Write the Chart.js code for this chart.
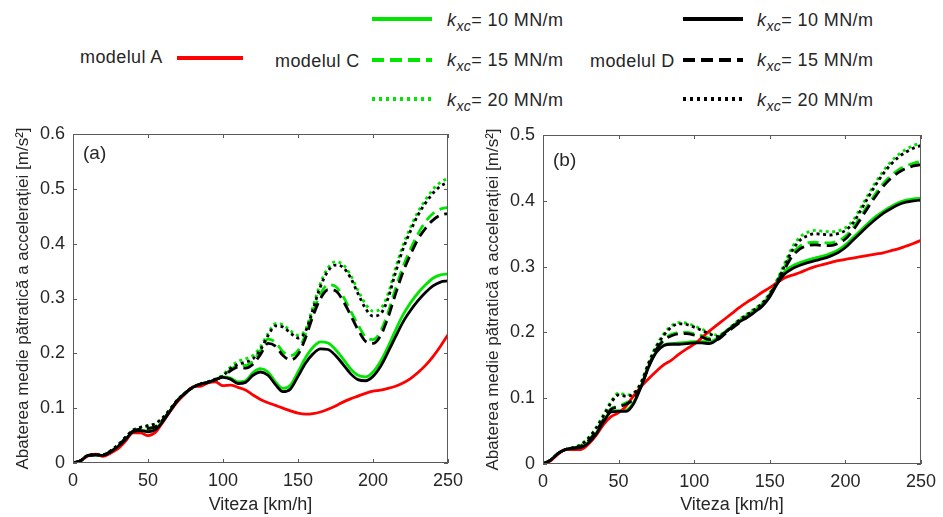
<!DOCTYPE html>
<html>
<head>
<meta charset="utf-8">
<script src="https://cdn.jsdelivr.net/npm/chart.js@4"></script>
<style>
body{margin:0;background:#fff;width:943px;height:517px;overflow:hidden;position:relative;font-family:"Liberation Sans",Arial,sans-serif}
#legend{position:absolute;left:0;top:0}
.box{position:absolute;top:110px;height:407px}
#boxA{left:0;width:470px}
#boxB{left:470px;width:473px}
</style>
</head>
<body>
<svg id="legend" width="943" height="120" font-family="Liberation Sans, Arial, sans-serif" font-size="18" fill="#262626" letter-spacing="0.4">
  <text x="80" y="63">modelul A</text>
  <line x1="177" y1="58" x2="243" y2="58" stroke="#ff0000" stroke-width="4"/>

  <text x="275" y="67">modelul C</text>
  <line x1="372" y1="19" x2="432" y2="19" stroke="#00e600" stroke-width="4"/>
  <line x1="372" y1="60" x2="432" y2="60" stroke="#00e600" stroke-width="4" stroke-dasharray="12 6"/>
  <line x1="372" y1="99" x2="432" y2="99" stroke="#00e600" stroke-width="4" stroke-dasharray="3 4"/>
  <text x="447" y="26"><tspan font-style="italic">k</tspan><tspan font-style="italic" font-size="14" dy="5">xc</tspan><tspan dy="-5">= 10 MN/m</tspan></text>
  <text x="447" y="66"><tspan font-style="italic">k</tspan><tspan font-style="italic" font-size="14" dy="5">xc</tspan><tspan dy="-5">= 15 MN/m</tspan></text>
  <text x="447" y="106"><tspan font-style="italic">k</tspan><tspan font-style="italic" font-size="14" dy="5">xc</tspan><tspan dy="-5">= 20 MN/m</tspan></text>

  <text x="590" y="67">modelul D</text>
  <line x1="683" y1="19" x2="743" y2="19" stroke="#000" stroke-width="4"/>
  <line x1="683" y1="60" x2="743" y2="60" stroke="#000" stroke-width="4" stroke-dasharray="12 6"/>
  <line x1="683" y1="99" x2="743" y2="99" stroke="#000" stroke-width="4" stroke-dasharray="3 4"/>
  <text x="757" y="26"><tspan font-style="italic">k</tspan><tspan font-style="italic" font-size="14" dy="5">xc</tspan><tspan dy="-5">= 10 MN/m</tspan></text>
  <text x="757" y="66"><tspan font-style="italic">k</tspan><tspan font-style="italic" font-size="14" dy="5">xc</tspan><tspan dy="-5">= 15 MN/m</tspan></text>
  <text x="757" y="106"><tspan font-style="italic">k</tspan><tspan font-style="italic" font-size="14" dy="5">xc</tspan><tspan dy="-5">= 20 MN/m</tspan></text>
</svg>
<div class="box" id="boxA"><canvas id="chartA" width="470" height="407"></canvas></div>
<div class="box" id="boxB"><canvas id="chartB" width="473" height="407"></canvas></div>
<script>
// viteza [km/h]
var speeds = [0,5,10,15,20,25,30,35,40,45,50,55,60,65,70,75,80,85,90,95,100,105,110,115,120,125,130,135,140,145,150,155,160,165,170,175,180,185,190,195,200,205,210,215,220,225,230,235,240,245,250];

// (a)
var aA   = [0,0.004,0.013,0.016,0.012,0.018,0.026,0.040,0.055,0.055, 0.050,0.056,0.075,0.095,0.113,0.127,0.139,0.140,0.146,0.148, 0.141,0.142,0.138,0.133,0.124,0.116,0.110,0.105,0.100,0.095, 0.091,0.089,0.090,0.093,0.098,0.104,0.111,0.117,0.122,0.127, 0.131,0.133,0.136,0.140,0.146,0.154,0.165,0.178,0.194,0.213, 0.234];
var aC10 = [0,0.004,0.014,0.015,0.014,0.020,0.030,0.043,0.057,0.060, 0.058,0.062,0.077,0.097,0.115,0.128,0.138,0.144,0.147,0.152, 0.157,0.155,0.148,0.150,0.165,0.172,0.166,0.148,0.136,0.142, 0.166,0.192,0.211,0.221,0.219,0.207,0.190,0.172,0.160,0.157, 0.166,0.185,0.212,0.242,0.270,0.292,0.310,0.325,0.337,0.343, 0.345];
var aD10 = [0,0.004,0.014,0.015,0.014,0.020,0.030,0.043,0.057,0.059, 0.057,0.061,0.076,0.096,0.115,0.128,0.138,0.144,0.147,0.152, 0.156,0.153,0.145,0.147,0.160,0.166,0.160,0.143,0.130,0.135, 0.158,0.182,0.199,0.208,0.207,0.196,0.180,0.163,0.152,0.150, 0.158,0.176,0.202,0.230,0.257,0.278,0.296,0.311,0.323,0.330, 0.332];
var aC15 = [0,0.004,0.014,0.015,0.015,0.021,0.031,0.045,0.058,0.062, 0.063,0.066,0.079,0.097,0.115,0.128,0.138,0.144,0.147,0.152, 0.159,0.170,0.178,0.178,0.186,0.205,0.226,0.220,0.203,0.196, 0.205,0.235,0.275,0.308,0.325,0.322,0.304,0.278,0.252,0.230, 0.225,0.240,0.274,0.318,0.358,0.390,0.418,0.440,0.455,0.463, 0.466];
var aD15 = [0,0.004,0.014,0.015,0.015,0.021,0.031,0.045,0.058,0.062, 0.063,0.066,0.079,0.097,0.115,0.128,0.138,0.144,0.147,0.152, 0.158,0.168,0.175,0.173,0.180,0.198,0.218,0.213,0.196,0.188, 0.198,0.228,0.268,0.300,0.316,0.314,0.296,0.270,0.243,0.222, 0.218,0.232,0.265,0.308,0.348,0.380,0.408,0.428,0.443,0.452, 0.455];
var aC20 = [0,0.004,0.014,0.015,0.015,0.022,0.033,0.047,0.060,0.065, 0.068,0.072,0.083,0.099,0.116,0.128,0.138,0.144,0.148,0.153, 0.161,0.175,0.185,0.190,0.196,0.212,0.236,0.254,0.252,0.241, 0.233,0.243,0.285,0.328,0.356,0.367,0.362,0.343,0.315,0.290, 0.277,0.281,0.308,0.355,0.397,0.430,0.458,0.480,0.499,0.512, 0.519];
var aD20 = [0,0.004,0.014,0.015,0.015,0.022,0.033,0.047,0.060,0.065, 0.068,0.072,0.083,0.099,0.116,0.128,0.138,0.144,0.148,0.153, 0.159,0.172,0.180,0.184,0.190,0.207,0.232,0.250,0.248,0.237, 0.228,0.240,0.280,0.322,0.350,0.361,0.357,0.338,0.309,0.282, 0.268,0.272,0.300,0.347,0.390,0.423,0.452,0.474,0.492,0.505, 0.512];

// (b)
var bA   = [0,0.005,0.015,0.022,0.022,0.022,0.030,0.043,0.060,0.072, 0.078,0.088,0.104,0.118,0.130,0.141,0.151,0.158,0.167,0.175, 0.182,0.192,0.202,0.211,0.220,0.229,0.238,0.246,0.253,0.261, 0.268,0.276,0.283,0.287,0.291,0.296,0.300,0.303,0.306,0.309, 0.311,0.313,0.315,0.317,0.319,0.321,0.324,0.327,0.331,0.335, 0.340];
var bC10 = [0,0.006,0.016,0.022,0.024,0.026,0.033,0.046,0.065,0.080, 0.081,0.082,0.094,0.119,0.149,0.171,0.181,0.183,0.184,0.185, 0.186,0.186,0.186,0.191,0.200,0.209,0.218,0.226,0.234,0.243, 0.257,0.278,0.293,0.301,0.306,0.310,0.313,0.316,0.320,0.325, 0.333,0.344,0.355,0.366,0.376,0.384,0.391,0.397,0.401,0.403, 0.404];
var bD10 = [0,0.006,0.016,0.022,0.024,0.025,0.032,0.045,0.064,0.079, 0.080,0.080,0.092,0.118,0.148,0.170,0.180,0.182,0.182,0.183, 0.184,0.184,0.183,0.189,0.199,0.208,0.216,0.223,0.231,0.240, 0.254,0.274,0.289,0.297,0.302,0.306,0.309,0.312,0.316,0.321, 0.329,0.340,0.351,0.362,0.372,0.381,0.388,0.394,0.398,0.400, 0.401];
var bC15 = [0,0.006,0.016,0.022,0.024,0.028,0.036,0.050,0.068,0.084, 0.088,0.093,0.100,0.120,0.150,0.175,0.190,0.197,0.200,0.200, 0.198,0.195,0.191,0.190,0.198,0.207,0.216,0.224,0.232,0.242, 0.258,0.279,0.301,0.320,0.331,0.336,0.337,0.336,0.336,0.339, 0.346,0.359,0.376,0.394,0.411,0.426,0.438,0.447,0.453,0.457, 0.460];
var bD15 = [0,0.006,0.016,0.022,0.024,0.027,0.035,0.049,0.067,0.083, 0.087,0.091,0.099,0.119,0.149,0.174,0.188,0.195,0.198,0.198, 0.196,0.193,0.189,0.189,0.197,0.206,0.215,0.223,0.231,0.240, 0.256,0.276,0.297,0.316,0.327,0.332,0.333,0.332,0.332,0.335, 0.342,0.355,0.372,0.390,0.407,0.422,0.434,0.443,0.449,0.453, 0.455];
var bC20 = [0,0.006,0.016,0.022,0.025,0.030,0.040,0.055,0.075,0.095, 0.108,0.105,0.108,0.125,0.155,0.180,0.198,0.210,0.215,0.214, 0.210,0.205,0.200,0.196,0.200,0.210,0.220,0.228,0.236,0.245, 0.260,0.281,0.306,0.330,0.345,0.352,0.355,0.354,0.353,0.354, 0.359,0.370,0.389,0.409,0.428,0.445,0.459,0.470,0.478,0.484, 0.488];
var bD20 = [0,0.006,0.016,0.022,0.025,0.029,0.039,0.054,0.073,0.093, 0.105,0.103,0.107,0.124,0.154,0.178,0.196,0.208,0.213,0.212, 0.208,0.203,0.198,0.194,0.199,0.209,0.219,0.227,0.235,0.244, 0.258,0.278,0.302,0.325,0.340,0.347,0.350,0.349,0.348,0.350, 0.355,0.366,0.385,0.405,0.424,0.441,0.455,0.466,0.474,0.480, 0.484];

var GREEN = '#00e600', RED = '#ff0000', BLACK = '#000000', AXIS = '#262626', BOX = '#5a5a5a';
var FONT = '"Liberation Sans", Arial, sans-serif';
var DASH = [11, 6], DOT = [3, 3.5];

function pts(vals) {
    return speeds.map(function (v, i) { return { x: v, y: vals[i] }; });
}

function line(vals, color, dash) {
    return {
        data: pts(vals),
        borderColor: color,
        borderWidth: 2.8,
        borderDash: dash || [],
        pointRadius: 0,
        fill: false,
        cubicInterpolationMode: 'monotone'
    };
}

// box + inward ticks like the matlab figure, plus (a)/(b)
var frame = {
    id: 'frame',
    afterDatasetsDraw: function (chart, args, opts) {
        var ctx = chart.ctx, a = chart.chartArea, x = chart.scales.x, y = chart.scales.y;
        ctx.save();
        ctx.strokeStyle = BOX;
        ctx.lineWidth = 1;
        ctx.strokeRect(a.left + 0.5, a.top + 0.5, a.right - a.left - 1, a.bottom - a.top - 1);
        ctx.beginPath();
        x.ticks.forEach(function (t) {
            var px = Math.round(x.getPixelForValue(t.value)) + 0.5;
            ctx.moveTo(px, a.bottom); ctx.lineTo(px, a.bottom - 4);
            ctx.moveTo(px, a.top); ctx.lineTo(px, a.top + 4);
        });
        y.ticks.forEach(function (t) {
            var py = Math.round(y.getPixelForValue(t.value)) + 0.5;
            ctx.moveTo(a.left, py); ctx.lineTo(a.left + 4, py);
            ctx.moveTo(a.right, py); ctx.lineTo(a.right - 4, py);
        });
        ctx.stroke();
        ctx.fillStyle = AXIS;
        ctx.font = '19px ' + FONT;
        ctx.textBaseline = 'middle';
        ctx.fillText(opts.label, a.left + 10, a.top + opts.dy);
        ctx.restore();
    }
};

function makeChart(id, sets, ymax, label, dy, padTop, padRight, xH) {
    return new Chart(document.getElementById(id), {
        type: 'line',
        data: {
            datasets: [
                line(sets[4], BLACK), line(sets[5], BLACK, DASH), line(sets[6], BLACK, DOT),
                line(sets[0], RED),
                line(sets[1], GREEN), line(sets[2], GREEN, DASH), line(sets[3], GREEN, DOT)
            ]
        },
        options: {
            responsive: false,
            animation: false,
            layout: { padding: { top: padTop, right: padRight, left: 0, bottom: 0 } },
            plugins: {
                legend: { display: false },
                tooltip: { enabled: false },
                frame: { label: label, dy: dy }
            },
            scales: {
                x: {
                    type: 'linear', min: 0, max: 250,
                    grid: { display: false, drawTicks: false },
                    border: { display: false },
                    ticks: { stepSize: 50, padding: 7, color: AXIS, font: { family: FONT, size: 18 }, maxRotation: 0 },
                    title: { display: true, text: 'Viteza [km/h]', color: AXIS, font: { family: FONT, size: 18 }, padding: { top: 0, bottom: 1 } },
                    afterFit: function (s) { s.height = xH; }
                },
                y: {
                    min: 0, max: ymax,
                    grid: { display: false, drawTicks: false },
                    border: { display: false },
                    ticks: {
                        stepSize: 0.1, padding: 8, color: AXIS, font: { family: FONT, size: 18 },
                        callback: function (v) { return v === 0 ? '0' : v.toFixed(1); }
                    },
                    title: { display: true, text: 'Abaterea medie pătratică a accelerației [m/s²]', color: AXIS, font: { family: FONT, size: 17 }, padding: { top: 13, bottom: 0 } },
                    afterFit: function (s) { s.width = 73; }
                }
            }
        },
        plugins: [frame]
    });
}

makeChart('chartA', [aA, aC10, aC15, aC20, aD10, aD15, aD20], 0.6, '(a)', 20, 24, 13, 54);
makeChart('chartB', [bA, bC10, bC15, bC20, bD10, bD15, bD20], 0.5, '(b)', 26, 25, 16, 53);
</script>
</body>
</html>
